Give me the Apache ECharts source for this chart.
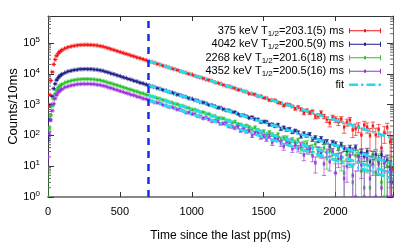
<!DOCTYPE html>
<html><head><meta charset="utf-8">
<script src="https://cdn.jsdelivr.net/npm/echarts@6/dist/echarts.min.js"></script>
<style>html,body{margin:0;padding:0;background:#fff}#c{width:415px;height:249px}</style>
</head><body><div id="c"></div>
<script>
// bin centres (ms)
const times = [
  0,10,20,30,40,50,60,70,80,90,
  100,120,140,160,180,200,220,240,260,280,
  300,320,340,360,380,400,420,440,460,480,
  500,520,540,560,580,600,620,640,660,680,
  700,720,740,760,780,800,820,840,860,880,
  900,920,940,960,980,1000,1020,1040,1060,1080,
  1100,1120,1140,1160,1180,1200,1220,1240,1260,1280,
  1300,1320,1340,1360,1380,1400,1420,1440,1460,1480,
  1500,1520,1540,1560,1580,1600,1620,1640,1660,1680,
  1700,1720,1740,1760,1780,1800,1820,1840,1860,1880,
  1900,1920,1940,1960,1980,2000,2020,2040,2060,2080,
  2100,2120,2140,2160,2180,2200,2220,2240,2260,2280,
  2300,2320,2340,2360,2380,2390
];
// 375 keV
const counts375 = [
  962,2085,6040,11420,20150,28870,38210,44830,51240,55790,
  60180,66850,72710,76880,80620,83370,85690,86540,87350,86890,
  86410,84650,82960,79840,76690,71850,67390,62650,58840,54620,
  51105,48000,44555,41925,38760,36460,33800,31790,29745,27645,
  25935,24100,22765,21050,19815,18210,17265,16065,14890,14085,
  13165,12060,11425,10740,9884,9450,8647,8011,7616,7081,
  6527,6201,5883,5282,5030,4747,4340,3976,3905,3589,
  3365,3030,3007,2702,2602,2255,2228,2114,1878,1887,
  1641,1632,1392,1393,1374,1164,1116,933,1020,979,
  871,735,827,699,538,646,549,590,413,431,
  548,414,332,258,382,333,278,336,185,267,
  314,153,168,190,104,217,186,99,202,103,
  157,39,123,180,62,8
];
const err375 = [
  74,81,103,126,157,183,207,222,236,245,
  254,267,278,285,292,296,300,302,303,302,
  302,299,296,290,285,276,268,259,252,243,
  236,229,221,215,208,202,196,190,185,179,
  174,169,165,160,156,151,148,143,139,136,
  133,129,126,123,120,118,115,112,110,108,
  105,103,102,99,98,96,94,92,92,90,
  89,87,87,85,84,82,82,81,80,80,
  78,78,77,77,77,75,75,74,74,74,
  73,72,73,72,71,72,71,71,70,70,
  71,70,70,69,70,70,69,70,68,69,
  69,68,68,68,68,69,68,68,69,68,
  68,67,68,68,68,67
];
// 4042 keV
const counts4042 = [
  83,318,974,1859,3291,4702,6235,7301,8362,9087,
  9841,10862,11905,12493,13188,13552,14031,14077,14289,14102,
  14122,13741,13563,12951,12538,11692,11023,10168,9634,8871,
  8402,7721,7318,6759,6402,5881,5587,5106,4863,4489,
  4261,3897,3712,3398,3249,2962,2833,2574,2481,2301,
  2109,2027,1841,1768,1590,1541,1398,1349,1205,1171,
  1090,972,963,884,794,790,707,653,643,577,
  564,497,444,455,416,370,389,333,328,272,
  280,276,222,227,200,220,162,180,154,161,
  128,143,126,93,116,97,110,74,86,68,
  81,61,63,43,60,53,40,51,38,31,
  40,31,41,21,28,21,30,14,23,24,
  15,24,14,16,9,3
];
const err4042 = [
  15,21,33,45,58,70,80,86,92,96,
  100,105,110,112,115,117,119,119,120,119,
  119,118,117,114,113,109,106,101,99,95,
  92,89,86,83,81,78,76,72,71,68,
  66,63,62,59,58,56,54,52,51,49,
  47,46,44,44,41,41,39,38,37,36,
  35,33,33,32,30,30,29,28,28,27,
  26,25,24,24,23,22,23,22,21,20,
  20,20,19,19,18,19,17,18,17,17,
  13,13,12,11,12,11,12,10,11,10,
  10,10,10,9,9,9,8,9,8,8,
  8,8,8,7,8,7,8,7,7,7,
  7,7,7,7,6,6
];
// 2268 keV
const counts2268 = [
  1,166,452,902,1521,2251,2904,3488,3901,4337,
  4589,5188,5551,5962,6171,6461,6552,6709,6681,6734,
  6604,6561,6342,6193,5862,5571,5147,4862,4496,4247,
  3968,3654,3461,3187,3021,2779,2641,2418,2301,2112,
  2018,1841,1762,1604,1539,1398,1341,1219,1171,1061,
  1025,913,911,811,772,682,687,635,567,567,
  501,498,428,427,363,365,353,305,300,258,
  278,232,226,192,206,187,157,181,146,130,
  135,102,126,106,92,106,75,83,83,56,
  72,59,69,37,53,55,35,39,52,30,
  30,40,18,31,27,16,37,17,6,24,
  19,3,22,24,7,2,16,2,21,6,
  15,3,1,10,12,1
];
const err2268 = [
  9,16,23,31,40,48,55,60,63,66,
  68,73,75,78,79,81,81,82,82,83,
  82,81,80,79,77,75,72,70,68,66,
  64,61,60,57,56,53,52,50,49,47,
  46,44,43,41,40,38,38,36,35,34,
  33,32,31,30,29,28,28,27,25,25,
  24,24,23,23,21,21,21,20,19,18,
  19,18,17,16,17,16,15,16,15,14,
  15,13,14,14,13,14,12,13,13,12,
  12,12,12,11,12,12,11,11,11,10,
  10,11,10,11,10,10,11,10,9,10,
  10,9,10,10,9,9,10,9,10,9,
  10,9,9,9,10,9
];
// 4352 keV
const counts4352 = [
  20,118,316,634,1066,1584,2031,2452,2731,3049,
  3219,3645,3889,4183,4322,4537,4598,4709,4685,4723,
  4628,4603,4449,4344,4108,3911,3604,3412,3149,2981,
  2741,2603,2391,2273,2083,1984,1817,1730,1581,1512,
  1426,1292,1185,1156,1104,975,932,828,834,765,
  693,686,621,551,553,494,500,422,411,359,
  375,329,288,299,284,238,243,240,196,191,
  174,187,143,152,134,140,99,119,118,88,
  94,76,93,59,75,76,56,44,60,65,
  37,47,38,50,23,34,37,22,13,34,
  26,12,28,14,30,6,17,20,4,10,
  22,5,1,14,11,1,19,4,12,1,
  12,2,13,1,7,1
];
const err4352 = [
  10,14,20,27,34,41,46,50,53,56,
  57,61,63,65,66,68,68,69,69,69,
  69,68,67,67,65,63,61,59,57,55,
  53,52,50,49,47,45,44,43,41,40,
  39,37,36,35,34,32,32,30,30,29,
  28,28,26,25,25,24,24,22,22,21,
  21,20,19,19,19,18,18,18,17,16,
  16,16,15,15,15,15,13,14,14,13,
  13,12,13,12,12,12,12,11,12,12,
  9,10,9,10,8,9,9,8,7,9,
  8,7,8,7,8,6,8,8,6,7,
  8,6,6,7,7,6,8,6,7,6,
  7,6,7,6,7,6
];
// exponential fits (start / end of the fit range)
const fitTimes = [700, 2400];
const fit375 = [26000, 80];
const fit4042 = [4220, 12];
const fit2268 = [1994, 5.8];
const fit4352 = [1399, 3.9];
const cutTime = 700;

const xTickLabels = [0, 500, 1000, 1500, 2000];
const yDecades = [1, 10, 100, 1000, 10000, 100000];
const minorMultipliers = [2,3,4,5,6,7,8,9];
const yMin = 1, yMax = 750000;

const names = ['375', '4042', '2268', '4352'];
const legendLabels = {
  '375':  '375 keV T{s|1/2}=203.1(5) ms',
  '4042': '4042 keV T{s|1/2}=200.5(9) ms',
  '2268': '2268 keV T{s|1/2}=201.6(18) ms',
  '4352': '4352 keV T{s|1/2}=200.5(16) ms',
  'fit': 'fit'
};
const colors = ['#f41414', '#1e1e8e', '#2cc02c', '#9a33dd'];
const fitColor = '#22dcef';
const cutColor = '#1a2ee6';
const FONT = '"Liberation Sans", Arial, sans-serif';

const countSets = [counts375, counts4042, counts2268, counts4352];
const errSets = [err375, err4042, err2268, err4352];
const fitSets = [fit375, fit4042, fit2268, fit4352];

function makeRender(color) {
  return function (params, api) {
    const x = api.value(0), y = api.value(1), e = api.value(2);
    if (!(y > 0)) return;
    const cs = params.coordSys;
    const yBottom = cs.y + cs.height;
    const p = api.coord([x, y]);
    const top = api.coord([x, y + e]);
    const topY = Math.max(top[1], cs.y);
    const botY = (y - e) > 0 ? Math.min(api.coord([x, y - e])[1], yBottom) : yBottom;
    const pl = api.coord([x - 5, y]), pr = api.coord([x + 5, y]);
    const cap = 2.2;
    const st = {stroke: color, lineWidth: 1, opacity: 0.65, fill: null};
    return {type: 'group', children: [
      {type: 'line', shape: {x1: p[0], y1: topY, x2: p[0], y2: botY}, style: st},
      {type: 'line', shape: {x1: p[0] - cap, y1: topY, x2: p[0] + cap, y2: topY}, style: st},
      {type: 'line', shape: {x1: p[0] - cap, y1: botY, x2: p[0] + cap, y2: botY}, style: st},
      {type: 'line', shape: {x1: pl[0], y1: p[1], x2: pr[0], y2: p[1]}, style: st},
      {type: 'line', shape: {x1: pl[0], y1: p[1] - cap, x2: pl[0], y2: p[1] + cap}, style: st},
      {type: 'line', shape: {x1: pr[0], y1: p[1] - cap, x2: pr[0], y2: p[1] + cap}, style: st},
      {type: 'rect', shape: {x: p[0] - 1, y: p[1] - 1, width: 2, height: 2}, style: {fill: color}}
    ]};
  };
}

const minorVals = [];
yDecades.forEach(d => minorMultipliers.forEach(m => { if (d * m < yMax) minorVals.push([0, d * m]); }));

const series = [];
names.forEach((n, i) => {
  series.push({
    type: 'custom', name: n, coordinateSystem: 'cartesian2d',
    xAxisIndex: 0, yAxisIndex: 0, clip: true, silent: true, z: 2,
    encode: {x: 0, y: 1},
    itemStyle: {color: colors[i]},
    data: times.map((t, k) => [t, countSets[i][k], errSets[i][k]]),
    renderItem: makeRender(colors[i])
  });
});
fitSets.forEach((f, i) => {
  const s = {
    type: 'line', name: 'fit', xAxisIndex: 0, yAxisIndex: 0, z: 3, silent: true,
    symbol: 'none', showSymbol: false,
    itemStyle: {color: fitColor},
    lineStyle: {color: fitColor, width: 2.8, type: [8, 3, 2, 3]},
    data: fitTimes.map((t, k) => [t, f[k]])
  };
  if (i === 0) {
    s.markLine = {
      silent: true, symbol: ['none', 'none'], label: {show: false}, animation: false,
      lineStyle: {color: cutColor, width: 2.5, type: [7, 6]},
      data: [{xAxis: cutTime}]
    };
  }
  series.push(s);
});
series.push({
  type: 'custom', name: 'minor', coordinateSystem: 'cartesian2d', silent: true, z: 1,
  encode: {x: 0, y: 1}, data: minorVals,
  renderItem: function (params, api) {
    const cs = params.coordSys;
    const yy = api.coord([0, api.value(1)])[1];
    const st = {stroke: '#666', lineWidth: 1};
    return {type: 'group', children: [
      {type: 'line', shape: {x1: cs.x, y1: yy, x2: cs.x + 3, y2: yy}, style: st},
      {type: 'line', shape: {x1: cs.x + cs.width - 3, y1: yy, x2: cs.x + cs.width, y2: yy}, style: st}
    ]};
  }
});

function yFmt(v) {
  const l = Math.log10(v), e = Math.round(l);
  if (Math.abs(l - e) > 1e-6) return '';
  return '10{sup|' + e + '}';
}

const option = {
  animation: false,
  backgroundColor: '#fff',
  grid: {left: 48, right: 22, top: 16, bottom: 52, containLabel: false, outerBoundsMode: 'none'},
  legend: {
    orient: 'vertical', right: 34, top: 24, padding: 0, align: 'right',
    itemWidth: 32, itemHeight: 5, itemGap: 0, selectedMode: false,
    textStyle: {fontSize: 11, fontFamily: FONT, color: '#000', lineHeight: 13.5,
      rich: {s: {fontSize: 8, fontFamily: FONT, color: '#000', lineHeight: 6, verticalAlign: 'bottom'}}},
    formatter: n => legendLabels[n] || n,
    data: [
      {name: '375', icon: 'path://M0,0h1v5h-1z M31,0h1v5h-1z M0,2h32v1h-32z M15,1h2v3h-2z'},
      {name: '4042', icon: 'path://M0,0h1v5h-1z M31,0h1v5h-1z M0,2h32v1h-32z M15,1h2v3h-2z'},
      {name: '2268', icon: 'path://M0,0h1v5h-1z M31,0h1v5h-1z M0,2h32v1h-32z M15,1h2v3h-2z'},
      {name: '4352', icon: 'path://M0,0h1v5h-1z M31,0h1v5h-1z M0,2h32v1h-32z M15,1h2v3h-2z'},
      {name: 'fit', icon: 'path://M0,0h0.01v0.01h-0.01z M31.99,4.99h0.01v0.01h-0.01z M0,1.2h9v2.6h-9z M12,1.2h2.5v2.6h-2.5z M17.5,1.2h9v2.6h-9z M29.5,1.2h2.5v2.6h-2.5z'}
    ]
  },
  xAxis: [
    {type: 'value', min: 0, max: 2400, interval: 500, position: 'bottom',
      axisLine: {show: true, onZero: false, lineStyle: {color: '#888', width: 2}},
      axisTick: {inside: true, length: 5, lineStyle: {color: '#333'}},
      axisLabel: {fontSize: 11, fontFamily: FONT, color: '#000', margin: 9,
        formatter: v => xTickLabels.indexOf(v) >= 0 ? String(v) : ''},
      splitLine: {show: false},
      name: 'Time since the last pp(ms)', nameLocation: 'middle', nameGap: 33, nameMoveOverlap: false,
      nameTextStyle: {fontSize: 12, fontFamily: FONT, color: '#000'}},
    {type: 'value', min: 0, max: 2400, interval: 500, position: 'top',
      axisLine: {show: true, onZero: false, lineStyle: {color: '#333', width: 1}},
      axisTick: {inside: true, length: 5, lineStyle: {color: '#333'}},
      axisLabel: {show: false}, splitLine: {show: false}}
  ],
  yAxis: [
    {type: 'log', logBase: 10, min: yMin, max: yMax, position: 'left',
      axisLine: {show: true, onZero: false, lineStyle: {color: '#333', width: 1}},
      axisTick: {inside: true, length: 6, lineStyle: {color: '#333'}},
      axisLabel: {fontSize: 11, fontFamily: FONT, color: '#000', margin: 8, lineHeight: 14,
        formatter: yFmt,
        rich: {sup: {fontSize: 8, fontFamily: FONT, color: '#000', lineHeight: 9, verticalAlign: 'top'}}},
      splitLine: {show: false},
      name: 'Counts/10ms', nameLocation: 'middle', nameGap: 28, nameMoveOverlap: false,
      nameTextStyle: {fontSize: 13, fontFamily: FONT, color: '#000'}},
    {type: 'log', logBase: 10, min: yMin, max: yMax, position: 'right',
      axisLine: {show: true, onZero: false, lineStyle: {color: '#666', width: 1}},
      axisTick: {inside: true, length: 6, lineStyle: {color: '#333'}},
      axisLabel: {show: false}, splitLine: {show: false}}
  ],
  series: series
};

const chart = echarts.init(document.getElementById('c'), null, {renderer: 'canvas'});
chart.setOption(option);
</script>
</body></html>
